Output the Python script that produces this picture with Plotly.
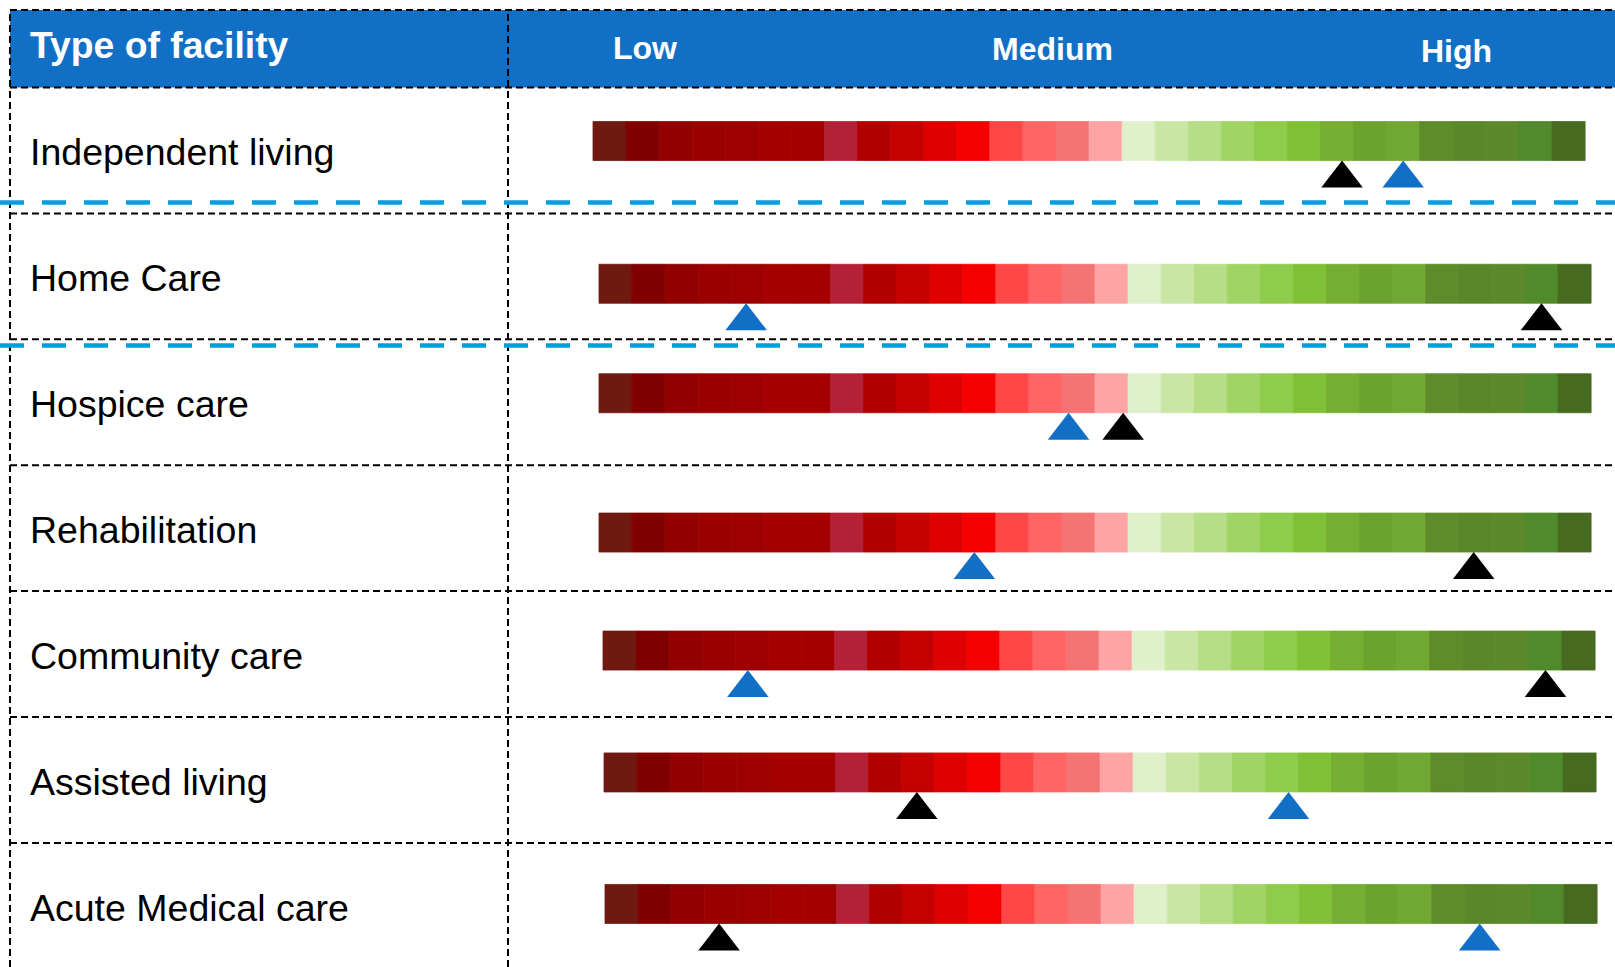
import plotly.graph_objects as go

# ---------------- data ----------------
facilities = ["Independent living", "Home Care", "Hospice care", "Rehabilitation",
              "Community care", "Assisted living", "Acute Medical care"]
# marker positions on the 30-step Low -> High scale
black_scores = [22.65, 28.5, 15.85, 26.45, 28.5, 9.46, 3.45]
blue_scores = [24.5, 4.45, 14.2, 11.35, 4.38, 20.7, 26.45]
scale_labels = ["Low", "Medium", "High"]
scale_label_pos = [1.39, 13.70, 25.94]
header_title = "Type of facility"
n_segments = 30

# ---------------- styles ----------------
SEGMENT_COLORS = [
    "#6f1911", "#800000", "#920000", "#9a0000", "#9c0000", "#a50000", "#a50000",
    "#b42036", "#b20000", "#c40000", "#de0000", "#f50000", "#ff4747", "#ff6565",
    "#f47373", "#ffa4a4",
    "#e0f0cb", "#c9e6a4", "#b5de87", "#a0d464", "#90cc4b", "#80c037", "#75ae33",
    "#6ca22e", "#70a833", "#5e8c2a", "#5a8828", "#5c8a2a", "#508a2a", "#466a20",
]
HEADER_BLUE = "#1170c6"
MARKER_BLUE = "#1170c6"
SEP_BLUE = "#009fdc"
FONT = "Liberation Sans, Arial, sans-serif"

# ---------------- layout geometry (pixels) ----------------
W, H = 1615, 967
HEADER_TOP, HEADER_BOTTOM, ROW_H = 10, 87.5, 125.9
LEFT_X, DIVIDER_X = 10, 508
TEXT_X = 28
X0, SEG = 599, 33.07
ROW_X_SHIFT_PX = [-6, 0, 0, 0, 4, 5, 6]
BAR_DY_PX = [-9.4, 7.4, -9.0, 4.4, -3.5, -7.5, -1.9]
LABEL_DY_PX = 2
BAR_H_PX = 39
MARKER_SIZE = 36
SEP_Y_PX = [202.5, 345.5]


def ux(px):
    return (px - X0) / SEG


def vy(py):
    return (py - HEADER_BOTTOM) / ROW_H - 0.5


fig = go.Figure()

# color scale bars
bx, by, bbase, bcol = [], [], [], []
for r in range(len(facilities)):
    for k in range(n_segments):
        bx.append(1)
        by.append(r + BAR_DY_PX[r] / ROW_H)
        bbase.append(k + ROW_X_SHIFT_PX[r] / SEG)
        bcol.append(SEGMENT_COLORS[k])
fig.add_trace(go.Bar(orientation="h", x=bx, y=by, base=bbase,
                     width=BAR_H_PX / ROW_H,
                     marker=dict(color=bcol, line=dict(width=0.8, color=bcol)),
                     hoverinfo="skip", showlegend=False))


def marker_trace(scores, color, name):
    xs, ys = [], []
    for r, v in enumerate(scores):
        xs.append(v + ROW_X_SHIFT_PX[r] / SEG)
        ys.append(r + (BAR_DY_PX[r] + BAR_H_PX / 2 + MARKER_SIZE / 2) / ROW_H)
    return go.Scatter(x=xs, y=ys, mode="markers", name=name,
                      marker=dict(symbol="triangle-up", size=MARKER_SIZE,
                                  color=color, line=dict(width=0)),
                      cliponaxis=False, showlegend=False)


fig.add_trace(marker_trace(black_scores, "black", "Black marker"))
fig.add_trace(marker_trace(blue_scores, MARKER_BLUE, "Blue marker"))

shapes = []
# header background
shapes.append(dict(type="rect", xref="paper", yref="paper",
                   x0=LEFT_X / W, x1=1, y0=1 - HEADER_BOTTOM / H, y1=1 - HEADER_TOP / H,
                   fillcolor=HEADER_BLUE, line=dict(width=0), layer="below"))
grid = dict(color="black", width=2, dash="7px,4px")
# horizontal grid lines
ys_px = [HEADER_TOP] + [HEADER_BOTTOM + i * ROW_H for i in range(len(facilities) + 1)]
for py in ys_px:
    shapes.append(dict(type="line", xref="paper", yref="paper",
                       x0=LEFT_X / W, x1=1, y0=1 - py / H, y1=1 - py / H, line=grid))
# vertical grid lines
for px in [LEFT_X, DIVIDER_X]:
    shapes.append(dict(type="line", xref="paper", yref="paper",
                       x0=px / W, x1=px / W, y0=0, y1=1 - HEADER_TOP / H, line=grid))
# blue separators
for py in SEP_Y_PX:
    shapes.append(dict(type="line", xref="paper", yref="paper",
                       x0=0, x1=1, y0=1 - py / H, y1=1 - py / H,
                       line=dict(color=SEP_BLUE, width=4.5, dash="24px,18px")))

annotations = []
annotations.append(dict(text="<b>" + header_title + "</b>", xref="paper", yref="y",
                        x=TEXT_X / W, y=vy(44.5), xanchor="left", yanchor="middle",
                        showarrow=False, font=dict(family=FONT, size=37.3, color="white")))
label_y_px = [47.7, 48.5, 50.8]
for lab, pos, py in zip(scale_labels, scale_label_pos, label_y_px):
    annotations.append(dict(text="<b>" + lab + "</b>", xref="x", yref="y",
                            x=pos, y=vy(py), xanchor="center", yanchor="middle",
                            showarrow=False, font=dict(family=FONT, size=32, color="white")))
for r, name in enumerate(facilities):
    annotations.append(dict(text=name, xref="paper", yref="y",
                            x=TEXT_X / W, y=r + LABEL_DY_PX / ROW_H,
                            xanchor="left", yanchor="middle",
                            showarrow=False, font=dict(family=FONT, size=37.5, color="black")))

fig.update_layout(
    width=W, height=H, margin=dict(l=0, r=0, t=0, b=0),
    paper_bgcolor="white", plot_bgcolor="white",
    barmode="overlay", showlegend=False,
    xaxis=dict(range=[ux(0), ux(W)], domain=[0, 1], visible=False, fixedrange=True),
    yaxis=dict(range=[vy(H), vy(0)], domain=[0, 1], visible=False, fixedrange=True),
    shapes=shapes, annotations=annotations,
)

fig.write_html("out.html", config={"displayModeBar": False})
